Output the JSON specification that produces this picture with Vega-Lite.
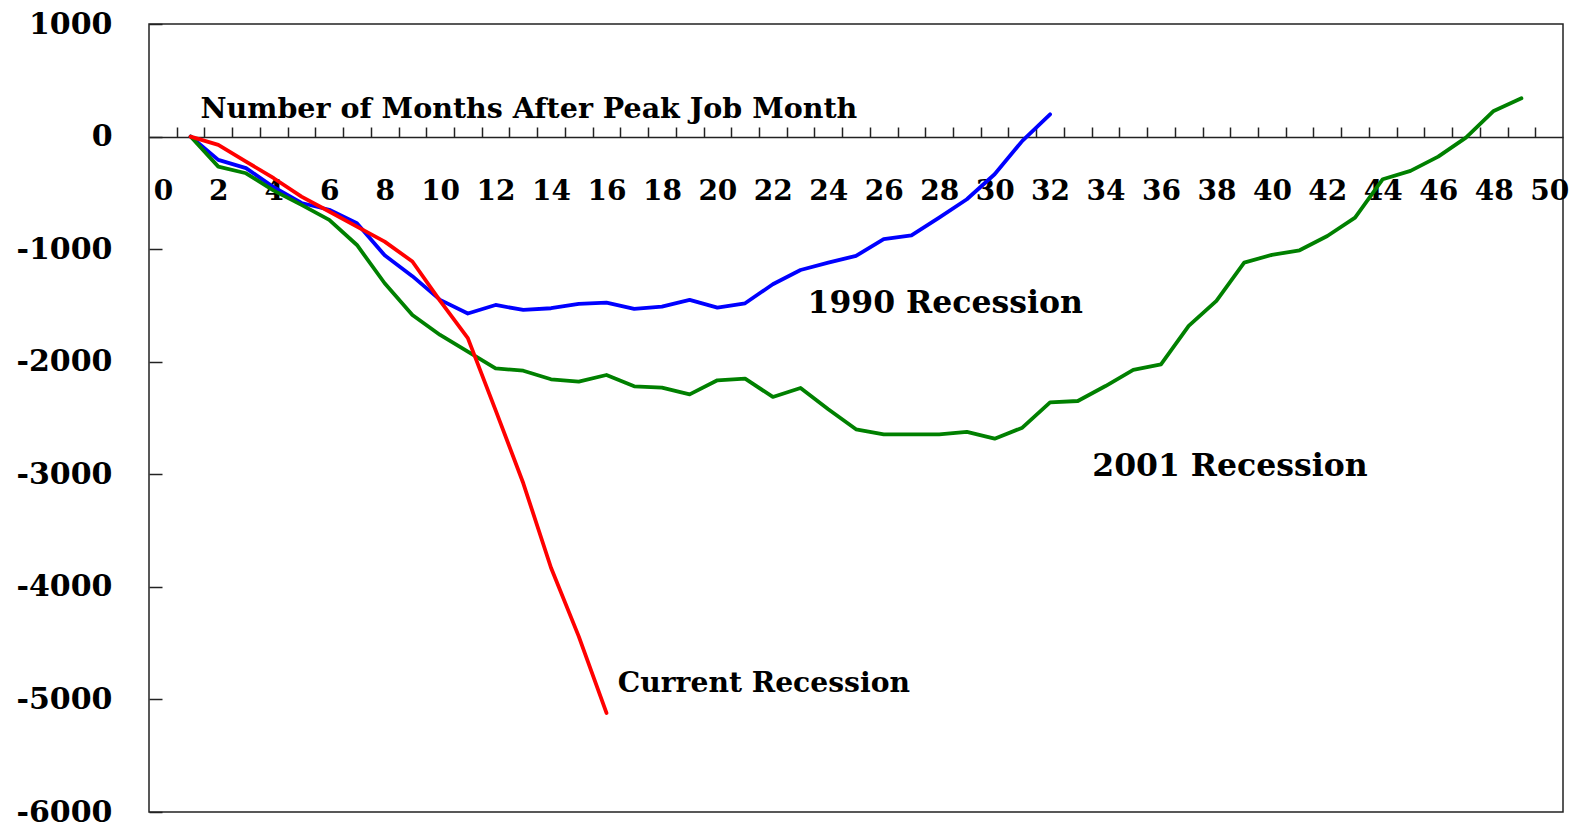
{
  "$schema": "https://vega.github.io/schema/vega-lite/v6.json",
  "autosize": {"type": "none"},
  "padding": {"left": 149, "top": 24, "right": 20, "bottom": 18},
  "width": 1414,
  "height": 788,
  "background": "white",
  "config": {
    "view": {"stroke": "#222222", "strokeWidth": 1.5},
    "axis": {"grid": false, "labelColor": "black", "titleColor": "black", "tickColor": "#222222", "domainColor": "#222222"}
  },
  "resolve": {"axis": {"x": "independent", "y": "independent"}},
  "layer": [
    {
      "data": {"values": [
        {"series": "1990", "month": 1, "value": 0},
        {"series": "1990", "month": 2, "value": -207},
        {"series": "1990", "month": 3, "value": -280},
        {"series": "1990", "month": 4, "value": -450},
        {"series": "1990", "month": 5, "value": -590},
        {"series": "1990", "month": 6, "value": -650},
        {"series": "1990", "month": 7, "value": -770},
        {"series": "1990", "month": 8, "value": -1055},
        {"series": "1990", "month": 9, "value": -1240},
        {"series": "1990", "month": 10, "value": -1451},
        {"series": "1990", "month": 11, "value": -1572},
        {"series": "1990", "month": 12, "value": -1496},
        {"series": "1990", "month": 13, "value": -1540},
        {"series": "1990", "month": 14, "value": -1525},
        {"series": "1990", "month": 15, "value": -1487},
        {"series": "1990", "month": 16, "value": -1475},
        {"series": "1990", "month": 17, "value": -1530},
        {"series": "1990", "month": 18, "value": -1510},
        {"series": "1990", "month": 19, "value": -1451},
        {"series": "1990", "month": 20, "value": -1520},
        {"series": "1990", "month": 21, "value": -1481},
        {"series": "1990", "month": 22, "value": -1312},
        {"series": "1990", "month": 23, "value": -1185},
        {"series": "1990", "month": 24, "value": -1120},
        {"series": "1990", "month": 25, "value": -1060},
        {"series": "1990", "month": 26, "value": -912},
        {"series": "1990", "month": 27, "value": -877},
        {"series": "1990", "month": 28, "value": -720},
        {"series": "1990", "month": 29, "value": -557},
        {"series": "1990", "month": 30, "value": -335},
        {"series": "1990", "month": 31, "value": -38},
        {"series": "1990", "month": 32, "value": 198},
        {"series": "2001", "month": 1, "value": 0},
        {"series": "2001", "month": 2, "value": -267},
        {"series": "2001", "month": 3, "value": -326},
        {"series": "2001", "month": 4, "value": -480},
        {"series": "2001", "month": 5, "value": -607},
        {"series": "2001", "month": 6, "value": -740},
        {"series": "2001", "month": 7, "value": -963},
        {"series": "2001", "month": 8, "value": -1303},
        {"series": "2001", "month": 9, "value": -1585},
        {"series": "2001", "month": 10, "value": -1762},
        {"series": "2001", "month": 11, "value": -1910},
        {"series": "2001", "month": 12, "value": -2059},
        {"series": "2001", "month": 13, "value": -2080},
        {"series": "2001", "month": 14, "value": -2156},
        {"series": "2001", "month": 15, "value": -2177},
        {"series": "2001", "month": 16, "value": -2118},
        {"series": "2001", "month": 17, "value": -2219},
        {"series": "2001", "month": 18, "value": -2230},
        {"series": "2001", "month": 19, "value": -2290},
        {"series": "2001", "month": 20, "value": -2165},
        {"series": "2001", "month": 21, "value": -2150},
        {"series": "2001", "month": 22, "value": -2313},
        {"series": "2001", "month": 23, "value": -2233},
        {"series": "2001", "month": 24, "value": -2423},
        {"series": "2001", "month": 25, "value": -2600},
        {"series": "2001", "month": 26, "value": -2645},
        {"series": "2001", "month": 27, "value": -2645},
        {"series": "2001", "month": 28, "value": -2645},
        {"series": "2001", "month": 29, "value": -2624},
        {"series": "2001", "month": 30, "value": -2684},
        {"series": "2001", "month": 31, "value": -2586},
        {"series": "2001", "month": 32, "value": -2362},
        {"series": "2001", "month": 33, "value": -2349},
        {"series": "2001", "month": 34, "value": -2216},
        {"series": "2001", "month": 35, "value": -2073},
        {"series": "2001", "month": 36, "value": -2023},
        {"series": "2001", "month": 37, "value": -1682},
        {"series": "2001", "month": 38, "value": -1460},
        {"series": "2001", "month": 39, "value": -1120},
        {"series": "2001", "month": 40, "value": -1051},
        {"series": "2001", "month": 41, "value": -1010},
        {"series": "2001", "month": 42, "value": -883},
        {"series": "2001", "month": 43, "value": -720},
        {"series": "2001", "month": 44, "value": -379},
        {"series": "2001", "month": 45, "value": -305},
        {"series": "2001", "month": 46, "value": -178},
        {"series": "2001", "month": 47, "value": -9},
        {"series": "2001", "month": 48, "value": 228},
        {"series": "2001", "month": 49, "value": 340},
        {"series": "Current", "month": 1, "value": 0},
        {"series": "Current", "month": 2, "value": -74},
        {"series": "Current", "month": 3, "value": -222},
        {"series": "Current", "month": 4, "value": -370},
        {"series": "Current", "month": 5, "value": -533},
        {"series": "Current", "month": 6, "value": -666},
        {"series": "Current", "month": 7, "value": -800},
        {"series": "Current", "month": 8, "value": -933},
        {"series": "Current", "month": 9, "value": -1110},
        {"series": "Current", "month": 10, "value": -1460},
        {"series": "Current", "month": 11, "value": -1790},
        {"series": "Current", "month": 12, "value": -2430},
        {"series": "Current", "month": 13, "value": -3080},
        {"series": "Current", "month": 14, "value": -3830},
        {"series": "Current", "month": 15, "value": -4440},
        {"series": "Current", "month": 16, "value": -5120}
      ]},
      "mark": {"type": "line", "strokeWidth": 3.8, "strokeCap": "round", "strokeJoin": "round"},
      "encoding": {
        "x": {
          "field": "month", "type": "quantitative",
          "scale": {"domain": [-0.5, 50.5], "nice": false, "zero": false},
          "axis": {
            "orient": "top", "offset": -113,
            "values": [0.5,1.5,2.5,3.5,4.5,5.5,6.5,7.5,8.5,9.5,10.5,11.5,12.5,13.5,14.5,15.5,16.5,17.5,18.5,19.5,20.5,21.5,22.5,23.5,24.5,25.5,26.5,27.5,28.5,29.5,30.5,31.5,32.5,33.5,34.5,35.5,36.5,37.5,38.5,39.5,40.5,41.5,42.5,43.5,44.5,45.5,46.5,47.5,48.5,49.5],
            "labels": false, "ticks": true, "tickSize": 10, "tickWidth": 1.5,
            "domain": true, "domainWidth": 1.5,
            "title": "Number of Months After Peak Job Month",
            "titleFont": "DejaVu Serif", "titleFontWeight": "bold", "titleFontSize": 28.5,
            "titleX": 51, "titleY": -20, "titleAlign": "left", "titleBaseline": "alphabetic", "titleAnchor": null
          }
        },
        "y": {
          "field": "value", "type": "quantitative",
          "scale": {"domain": [-6000, 1000], "nice": false, "zero": false},
          "axis": {
            "values": [-6000, -5000, -4000, -3000, -2000, -1000, 0, 1000],
            "labelExpr": "'' + datum.value",
            "tickSize": -13, "tickWidth": 1.5, "labelPadding": 50, "domain": false,
            "labelFont": "DejaVu Serif", "labelFontWeight": "bold", "labelFontSize": 30,
            "labelFlush": false, "labelOverlap": false,
            "title": null
          }
        },
        "color": {
          "field": "series", "type": "nominal",
          "scale": {"domain": ["1990", "2001", "Current"], "range": ["#0000FF", "#008000", "#FF0000"]},
          "legend": null
        }
      }
    },
    {
      "data": {"values": [
        {"label": "1990 Recession", "month": 23.25, "value": -1571},
        {"label": "2001 Recession", "month": 33.52, "value": -3017}
      ]},
      "mark": {"type": "text", "align": "left", "baseline": "alphabetic", "font": "DejaVu Serif", "fontWeight": "bold", "fontSize": 31.5, "color": "black"},
      "encoding": {
        "x": {
          "field": "month", "type": "quantitative",
          "axis": {
            "orient": "bottom", "offset": -675,
            "values": [0,2,4,6,8,10,12,14,16,18,20,22,24,26,28,30,32,34,36,38,40,42,44,46,48,50],
            "ticks": false, "tickSize": 0, "domain": false,
            "labelPadding": 54, "labelBaseline": "middle",
            "labelFont": "DejaVu Serif", "labelFontWeight": "bold", "labelFontSize": 28,
            "labelFlush": false, "labelOverlap": false,
            "title": null
          }
        },
        "y": {"field": "value", "type": "quantitative", "axis": null},
        "text": {"field": "label", "type": "nominal"}
      }
    },
    {
      "data": {"values": [
        {"label": "Current Recession", "month": 16.41, "value": -4933}
      ]},
      "mark": {"type": "text", "align": "left", "baseline": "alphabetic", "font": "DejaVu Serif", "fontWeight": "bold", "fontSize": 28.2, "color": "black"},
      "encoding": {
        "x": {"field": "month", "type": "quantitative", "axis": null},
        "y": {"field": "value", "type": "quantitative", "axis": null},
        "text": {"field": "label", "type": "nominal"}
      }
    }
  ]
}
